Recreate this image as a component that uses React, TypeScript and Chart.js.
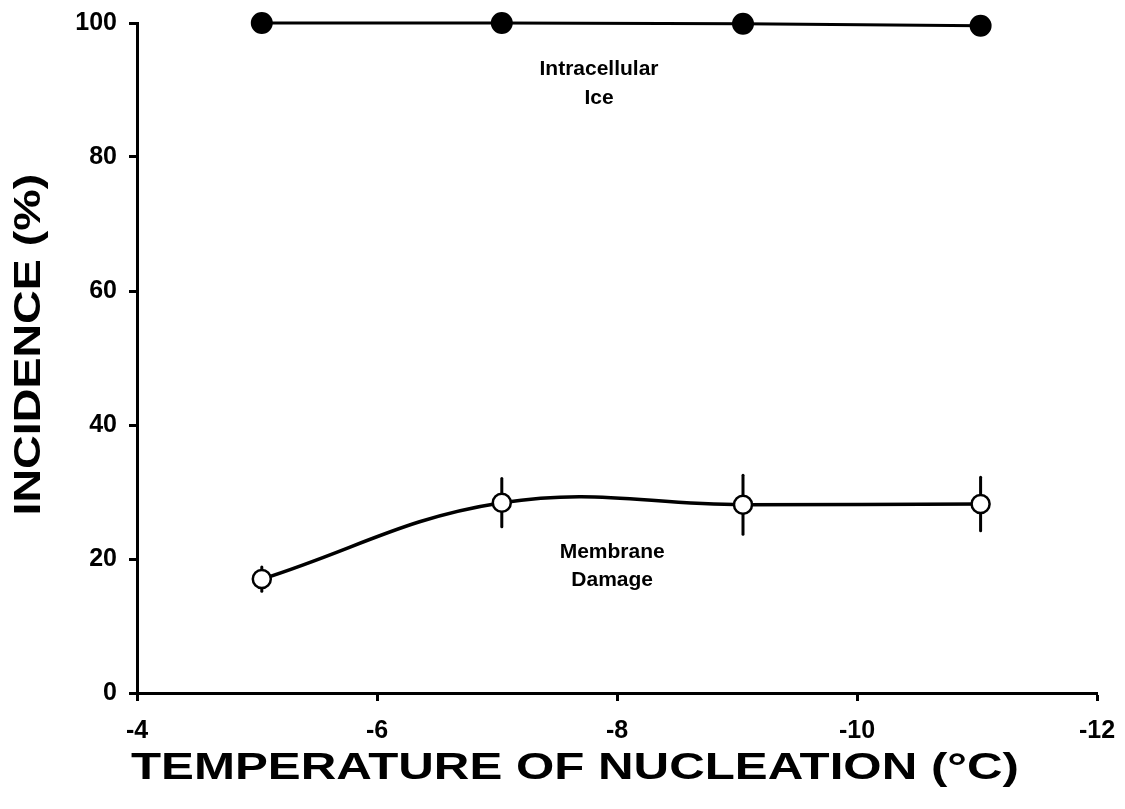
import React, { useEffect, useRef } from "react";
import { Chart, registerables } from "chart.js";

Chart.register(...registerables);

// Temperature of nucleation (°C)
const iceTemps = [-5.04, -7.04, -9.05, -11.03];
const iceIncidence = [100, 100, 99.9, 99.6];

const membraneTemps = [-5.04, -7.04, -9.05, -11.03];
const membraneIncidence = [17.0, 28.4, 28.1, 28.2];
const membraneError = [1.8, 3.6, 4.4, 4.0];

const xTicks = [-4, -6, -8, -10, -12];
const yTicks = [0, 20, 40, 60, 80, 100];

const xTitle = "TEMPERATURE OF NUCLEATION (°C)";
const yTitle = "INCIDENCE (%)";
const iceLabel = ["Intracellular", "Ice"];
const membraneLabel = ["Membrane", "Damage"];

const FONT = '"Liberation Sans", Arial, Helvetica, sans-serif';

const errorBarPlugin = {
  id: "errorBars",
  beforeDatasetsDraw(chart: any) {
    const { ctx, scales } = chart;
    const x = scales.x;
    const y = scales.y;
    ctx.save();
    ctx.strokeStyle = "#000";
    ctx.lineWidth = 3;
    ctx.lineCap = "round";
    membraneTemps.forEach((t, i) => {
      const px = x.getPixelForValue(t);
      const lo = y.getPixelForValue(membraneIncidence[i] - membraneError[i]);
      const hi = y.getPixelForValue(membraneIncidence[i] + membraneError[i]);
      ctx.beginPath();
      ctx.moveTo(px, lo);
      ctx.lineTo(px, hi);
      ctx.stroke();
    });
    ctx.restore();
  },
};

function stretchedText(ctx: any, text: string, cx: number, cy: number, targetW: number, rotate: boolean) {
  ctx.save();
  ctx.translate(cx, cy);
  if (rotate) ctx.rotate(-Math.PI / 2);
  const w = ctx.measureText(text).width;
  ctx.scale(targetW / w, 1);
  ctx.fillText(text, 0, 0);
  ctx.restore();
}

const textPlugin = {
  id: "texts",
  afterDraw(chart: any) {
    const { ctx, scales, chartArea } = chart;
    const x = scales.x;
    const y = scales.y;
    ctx.save();
    ctx.fillStyle = "#000";
    ctx.textAlign = "center";
    ctx.textBaseline = "middle";

    ctx.font = `bold 21px ${FONT}`;
    ctx.fillText(iceLabel[0], x.getPixelForValue(-7.85), y.getPixelForValue(93.1));
    ctx.fillText(iceLabel[1], x.getPixelForValue(-7.85), y.getPixelForValue(88.8));
    ctx.fillText(membraneLabel[0], x.getPixelForValue(-7.96), y.getPixelForValue(21.0));
    ctx.fillText(membraneLabel[1], x.getPixelForValue(-7.96), y.getPixelForValue(16.8));

    ctx.font = `bold 37px ${FONT}`;
    const w = chartArea.right - chartArea.left;
    stretchedText(ctx, xTitle, x.getPixelForValue(-7.65), chartArea.bottom + 76, w * 0.925, false);
    stretchedText(ctx, yTitle, chartArea.left - 107, y.getPixelForValue(52), w * 0.356, true);
    ctx.restore();
  },
};

export default function App() {
  const ref = useRef<HTMLCanvasElement>(null);

  useEffect(() => {
    if (!ref.current) return;
    const chart = new Chart(ref.current, {
      type: "line",
      data: {
        datasets: [
          {
            label: "Intracellular Ice",
            data: iceTemps.map((t, i) => ({ x: t, y: iceIncidence[i] })),
            borderColor: "#000",
            backgroundColor: "#000",
            borderWidth: 3,
            pointRadius: 9.5,
            pointBackgroundColor: "#000",
            pointBorderColor: "#000",
            tension: 0,
            clip: false,
          },
          {
            label: "Membrane Damage",
            data: membraneTemps.map((t, i) => ({ x: t, y: membraneIncidence[i] })),
            borderColor: "#000",
            backgroundColor: "#fff",
            borderWidth: 3.5,
            pointRadius: 9,
            pointBorderWidth: 2.5,
            pointBackgroundColor: "#fff",
            pointBorderColor: "#000",
            tension: 0.4,
            clip: false,
          },
        ],
      },
      plugins: [errorBarPlugin, textPlugin],
      options: {
        responsive: false,
        animation: false,
        layout: { padding: { left: 0, right: 28, top: 23, bottom: 0 } },
        plugins: {
          legend: { display: false },
          tooltip: { enabled: false },
        },
        scales: {
          x: {
            type: "linear",
            reverse: true,
            min: -12,
            max: -4,
            afterFit: (s: any) => {
              s.height = 116;
              s.paddingLeft = 0;
              s.paddingRight = 0;
            },
            afterBuildTicks: (s: any) => {
              s.ticks = xTicks.map((v) => ({ value: v }));
            },
            border: { display: true, color: "#000", width: 3 },
            grid: {
              drawOnChartArea: false,
              drawTicks: true,
              tickLength: 8,
              tickWidth: 3,
              color: "#000",
            },
            ticks: {
              color: "#000",
              padding: 15,
              font: { family: FONT, size: 25, weight: "bold" },
              callback: (v: any) => String(v),
            },
          },
          y: {
            type: "linear",
            min: 0,
            max: 100,
            afterFit: (s: any) => {
              s.width = 137;
              s.paddingTop = 0;
              s.paddingBottom = 0;
            },
            afterBuildTicks: (s: any) => {
              s.ticks = yTicks.map((v) => ({ value: v }));
            },
            border: { display: true, color: "#000", width: 3 },
            grid: {
              drawOnChartArea: false,
              drawTicks: true,
              tickLength: 8,
              tickWidth: 3,
              color: "#000",
            },
            ticks: {
              color: "#000",
              padding: 12,
              font: { family: FONT, size: 25, weight: "bold" },
              callback: (v: any) => String(v),
            },
          },
        },
      },
    } as any);
    return () => chart.destroy();
  }, []);

  return (
    <div style={{ position: "absolute", left: 0, top: 0, width: 1125, height: 809, background: "#fff" }}>
      <canvas ref={ref} width={1125} height={809} style={{ display: "block", width: 1125, height: 809 }} />
    </div>
  );
}
